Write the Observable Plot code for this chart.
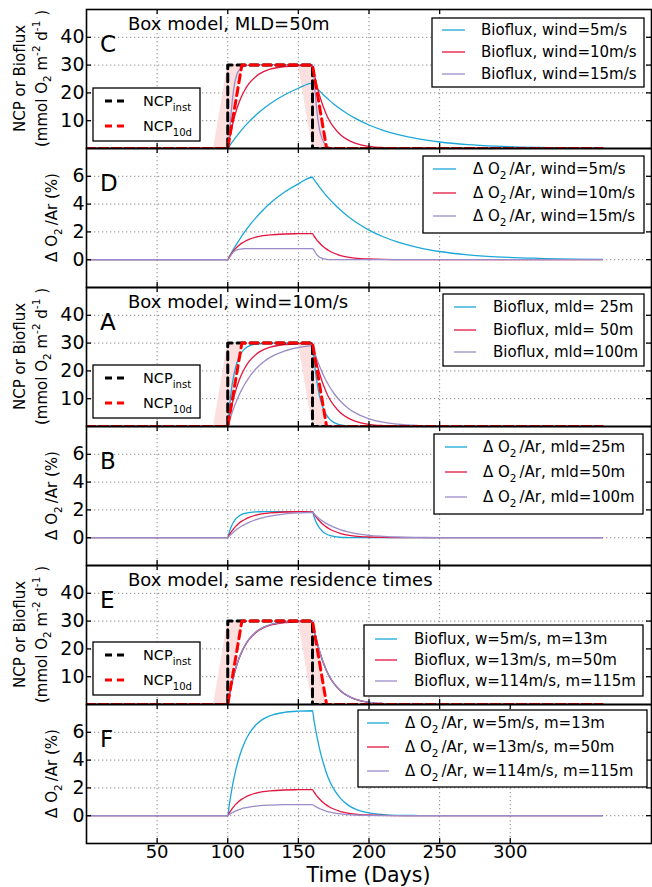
<!DOCTYPE html>
<html><head><meta charset="utf-8">
<script src="https://cdn.jsdelivr.net/npm/d3@7"></script>
<script src="https://cdn.jsdelivr.net/npm/@observablehq/plot@0.6"></script>
<style>
body{margin:0;background:#fff;overflow:hidden;font-family:"DejaVu Sans",sans-serif;}
#fig{position:relative;width:652px;height:887px;overflow:hidden;background:#fff;}
#fig svg{position:absolute;left:0;overflow:visible;}
</style></head><body><div id="fig"></div>
<script>
// ---- time grid (days) ----
const T = [0,100,101,102,103,104,105,106,107,108,110,112,115,120,125,130,140,150,160,161,162,163,164,165,166,167,168,170,172,175,180,185,190,200,210,220,235,250,270,290,320,365];

// ---- panel C: Bioflux, MLD=50m ----
const C_w5  = [0,0,0.76,1.50,2.22,2.93,3.61,4.28,4.93,5.56,6.79,7.95,9.58,12.04,14.20,16.10,19.24,21.67,23.55,22.95,22.37,21.81,21.25,20.72,20.19,19.68,19.18,18.22,17.31,16.03,14.10,12.40,10.91,8.45,6.54,5.06,3.44,2.34,1.40,0.84,0.39,0.12];
const C_w10 = [0,0,2.85,5.44,7.78,9.89,11.80,13.54,15.10,16.52,18.96,20.96,23.31,25.94,27.54,28.51,29.45,29.80,29.93,27.35,25.00,22.85,20.88,19.08,17.44,15.94,14.57,12.06,9.98,7.65,4.86,3.08,1.96,0.79,0.32,0.13,0.03,0.01,0,0,0,0];
const C_w15 = [0,0,5.0,10.5,16.0,20.5,23.8,25.9,27.3,28.2,29.2,29.6,29.9,30.1,30.2,30.2,30.2,30.2,30.2,26.0,19.5,14.0,9.8,6.8,4.7,3.2,2.2,1.0,0.45,0.15,0.02,0,0,0,0,0,0,0,0,0,0,0];
// ---- panel D: dO2/Ar, MLD=50m ----
const D_w5  = [0,0,0.19,0.38,0.56,0.74,0.91,1.08,1.24,1.40,1.71,2.00,2.41,3.03,3.58,4.06,4.85,5.46,5.93,5.78,5.64,5.50,5.36,5.22,5.09,4.96,4.83,4.59,4.36,4.04,3.55,3.12,2.75,2.13,1.65,1.28,0.87,0.59,0.35,0.21,0.10,0.03];
const D_w10 = [0,0,0.18,0.34,0.49,0.62,0.74,0.85,0.95,1.04,1.19,1.31,1.46,1.63,1.73,1.79,1.85,1.87,1.88,1.71,1.57,1.43,1.31,1.20,1.09,1.00,0.91,0.76,0.63,0.48,0.30,0.19,0.12,0.05,0.02,0.01,0,0,0,0,0,0];
const D_w15 = [0,0,0.13,0.28,0.43,0.55,0.63,0.69,0.73,0.75,0.78,0.79,0.80,0.80,0.80,0.80,0.80,0.80,0.80,0.69,0.52,0.37,0.26,0.18,0.13,0.09,0.06,0.03,0.01,0,0,0,0,0,0,0,0,0,0,0,0,0];
// ---- panel A: Bioflux, wind=10m/s ----
const A_m25  = [0,0,5.98,10.76,14.60,17.67,20.12,22.09,23.67,24.93,26.75,27.92,28.93,29.65,29.88,29.96,30,30,30,24.56,20.11,16.46,13.48,11.04,9.04,7.40,6.06,4.06,2.72,1.49,0.55,0.20,0.07,0.01,0,0,0,0,0,0,0,0];
const A_m50  = [0,0,2.85,5.44,7.78,9.89,11.80,13.54,15.10,16.52,18.96,20.96,23.31,25.94,27.54,28.51,29.45,29.80,29.93,27.35,25.00,22.85,20.88,19.08,17.44,15.94,14.57,12.06,9.98,7.65,4.86,3.08,1.96,0.79,0.32,0.13,0.03,0.01,0,0,0,0];
const A_m100 = [0,0,1.71,3.33,4.85,6.29,7.65,8.92,10.13,11.26,13.34,15.19,17.59,20.75,23.11,24.86,27.15,28.42,29.12,27.46,25.89,24.41,23.01,21.70,20.46,19.29,18.19,16.17,14.38,12.05,8.98,6.69,4.99,2.77,1.54,0.85,0.35,0.15,0.04,0.01,0,0];
// ---- panel B: dO2/Ar, wind=10m/s ----
const B_m25  = [0,0,0.37,0.67,0.92,1.11,1.26,1.39,1.48,1.56,1.68,1.75,1.81,1.86,1.87,1.88,1.88,1.88,1.88,1.54,1.26,1.03,0.85,0.69,0.57,0.46,0.38,0.25,0.17,0.09,0.03,0.01,0,0,0,0,0,0,0,0,0,0];
const B_m50  = [0,0,0.18,0.34,0.49,0.62,0.74,0.85,0.95,1.04,1.19,1.31,1.46,1.63,1.73,1.79,1.85,1.87,1.88,1.71,1.57,1.43,1.31,1.20,1.09,1.00,0.91,0.76,0.63,0.48,0.30,0.19,0.12,0.05,0.02,0.01,0,0,0,0,0,0];
const B_m100 = [0,0,0.11,0.21,0.30,0.39,0.48,0.56,0.64,0.71,0.84,0.95,1.10,1.30,1.45,1.56,1.70,1.78,1.83,1.72,1.62,1.53,1.44,1.36,1.28,1.21,1.14,1.01,0.90,0.76,0.56,0.42,0.31,0.17,0.10,0.05,0.02,0.01,0,0,0,0];
// ---- panel E: Bioflux, same residence times ----
const E_w5   = [0,0,2.87,5.47,7.82,9.94,11.86,13.60,15.17,16.60,19.05,21.06,23.42,26.06,27.66,28.63,29.57,29.92,30.05,27.46,25.10,22.94,20.96,19.16,17.51,16.00,14.63,12.11,10.02,7.68,4.88,3.09,1.97,0.79,0.32,0.13,0.03,0.01,0,0,0,0];
const E_w13  = [0,0,2.85,5.44,7.78,9.89,11.80,13.54,15.10,16.52,18.96,20.96,23.31,25.94,27.54,28.51,29.45,29.80,29.93,27.35,25.00,22.85,20.88,19.08,17.44,15.94,14.57,12.06,9.98,7.65,4.86,3.08,1.96,0.79,0.32,0.13,0.03,0.01,0,0,0,0];
const E_w114 = [0,0,2.88,5.49,7.85,9.98,11.90,13.65,15.23,16.66,19.12,21.14,23.51,26.16,27.77,28.74,29.69,30.04,30.17,27.57,25.20,23.03,21.05,19.24,17.58,16.07,14.69,12.16,10.06,7.71,4.90,3.10,1.98,0.80,0.32,0.13,0.03,0.01,0,0,0,0];
// ---- panel F: dO2/Ar, same residence times ----
const F_w5   = [0,0,0.72,1.37,1.96,2.50,2.98,3.42,3.81,4.17,4.78,5.29,5.88,6.54,6.95,7.19,7.43,7.52,7.55,6.90,6.31,5.77,5.27,4.81,4.40,4.02,3.68,3.04,2.52,1.93,1.23,0.78,0.49,0.20,0.08,0.03,0.01,0,0,0,0,0];
const F_w13  = [0,0,0.18,0.34,0.49,0.62,0.74,0.85,0.95,1.04,1.19,1.31,1.46,1.63,1.73,1.79,1.85,1.87,1.88,1.71,1.57,1.43,1.31,1.20,1.09,1.00,0.91,0.76,0.63,0.48,0.30,0.19,0.12,0.05,0.02,0.01,0,0,0,0,0,0];
const F_w114 = [0,0,0.08,0.15,0.21,0.26,0.32,0.36,0.40,0.44,0.51,0.56,0.62,0.69,0.74,0.76,0.79,0.80,0.80,0.73,0.67,0.61,0.56,0.51,0.47,0.43,0.39,0.32,0.27,0.20,0.13,0.08,0.05,0.02,0.01,0,0,0,0,0,0,0];

// ---- NCP forcing ----
const ncpInstT = [0,100,100,160,160,365];
const ncpInstV = [0,0,30,30,0,0];
const ncp10dT  = [0,100,110,160,170,365];
const ncp10dV  = [0,0,30,30,0,0];
const bandT     = [90,100,110,150,160,170];
const bandLead  = [0,30,30,30,0,0];
const bandTrail = [0,0,30,30,30,0];

// ---- ticks ----
const xTicksUpper = [50,100,150,200,250];
const xTicksLower = [50,100,150,200,250,300];
const ncpTicks = [10,20,30,40];
const o2Ticks = [0,2,4,6];
const ncpDomain = [0,50];
const o2Domain = [-2,8];

// ---- labels ----
const BLUE = "#1ba7d8", RED = "#e3153f", PURPLE = "#9c8bc9";
const DO2 = [{t:"Δ O"},{sub:"2"},{t:"/Ar, ", dx:3}];
const labelsC = ["Bioflux, wind=5m/s","Bioflux, wind=10m/s","Bioflux, wind=15m/s"];
const labelsD = ["wind=5m/s","wind=10m/s","wind=15m/s"];
const labelsA = ["Bioflux, mld= 25m","Bioflux, mld= 50m","Bioflux, mld=100m"];
const labelsB = ["mld=25m","mld=50m","mld=100m"];
const labelsE = ["Bioflux, w=5m/s, m=13m","Bioflux, w=13m/s, m=50m","Bioflux, w=114m/s, m=115m"];
const labelsF = ["w=5m/s, m=13m","w=13m/s, m=50m","w=114m/s, m=115m"];

// ---------------- drawing ----------------
const W = 652, ML = 86, MR = 1, PH = 139, PAD = 3, PW = W - ML - MR;
const FONT = "DejaVu Sans";
const fig = document.getElementById("fig");
const rowsOf = (ts, vs) => ts.map((t, i) => ({t, v: vs[i]}));
const bandRows = bandT.map((t, i) => ({t, lead: bandLead[i], trail: bandTrail[i]}));

function rich(g, x, y, parts, size, opts = {}) {
  const t = g.append("text").attr("font-size", size).attr("font-family", FONT)
    .attr("fill", "black").attr("text-anchor", opts.anchor || "start");
  if (opts.rotate) t.attr("transform", `translate(${x},${y}) rotate(-90)`);
  else t.attr("x", x).attr("y", y);
  let shift = 0;
  for (const p of parts) {
    const q = typeof p === "string" ? {t: p} : p;
    const s = t.append("tspan");
    let d = 0, fs = size;
    if (q.sub !== undefined) { d = size * 0.3; fs = size * 0.7; s.text(q.sub); }
    else if (q.sup !== undefined) { d = -size * 0.42; fs = size * 0.7; s.text(q.sup); }
    else s.text(q.t);
    s.attr("font-size", fs);
    if (d - shift !== 0) s.attr("dy", d - shift);
    if (q.dx) s.attr("dx", q.dx);
    shift = d;
  }
  return t;
}

function legend(g, box, rows, sx0, sx1, tx, size, lineW) {
  g.append("rect").attr("x", box[0]).attr("y", box[1] + PAD).attr("width", box[2] - box[0])
    .attr("height", box[3] - box[1]).attr("fill", "white").attr("stroke", "black").attr("stroke-width", 1.3);
  rows.forEach(r => {
    const l = g.append("line").attr("x1", sx0).attr("x2", sx1).attr("y1", r.y + PAD).attr("y2", r.y + PAD)
      .attr("stroke", r.color).attr("stroke-width", r.w || lineW);
    if (r.dash) l.attr("stroke-dasharray", r.dash);
    rich(g, tx, r.y + PAD + size * 0.36, r.parts, size);
  });
}

function panel(cfg) {
  const last = !!cfg.last;
  const mb = last ? 48 : PAD;
  const H = PAD + PH + mb;
  const xt = last ? xTicksLower : xTicksUpper;
  const yt = cfg.ncp ? ncpTicks : o2Ticks;
  const grid = {stroke: "#8c8c8c", strokeOpacity: 1, strokeWidth: 1, strokeDasharray: "1.3,2.7"};
  const marks = [
    Plot.gridX({ticks: xt, ...grid}),
    Plot.gridY({ticks: yt, ...grid})
  ];
  if (cfg.ncp) marks.push(Plot.areaY(bandRows, {x: "t", y1: "lead", y2: "trail", fill: "#fcdfdf", clip: true}));
  cfg.series.forEach(([arr, color]) => marks.push(
    Plot.line(rowsOf(T, arr), {x: "t", y: "v", stroke: color, strokeWidth: 1.3, curve: "monotone-x", clip: true})));
  if (cfg.ncp) {
    marks.push(Plot.line(rowsOf(ncpInstT, ncpInstV), {x: "t", y: "v", stroke: "black", strokeWidth: 3, strokeDasharray: "8,5", clip: true}));
    marks.push(Plot.line(rowsOf(ncp10dT, ncp10dV), {x: "t", y: "v", stroke: "#ff0000", strokeWidth: 3, strokeDasharray: "8,5", clip: true}));
  }
  const tk = {stroke: "black", strokeWidth: 1.3};
  marks.push(
    Plot.ruleX(xt, {x: d => d, insetTop: PH - 5, ...tk}),
    Plot.ruleX(xt, {x: d => d, insetBottom: PH - 5, ...tk}),
    Plot.ruleY(yt, {y: d => d, insetRight: PW - 5, ...tk}),
    Plot.ruleY(yt, {y: d => d, insetLeft: PW - 5, ...tk}),
    Plot.frame({stroke: "black", strokeWidth: 1.6}),
    Plot.axisY({ticks: yt, tickSize: 0, tickPadding: 2, label: null, fontSize: 19})
  );
  if (last) marks.push(Plot.axisX({ticks: xt, tickSize: 0, tickPadding: 2, label: null, fontSize: 18}));
  const svg = Plot.plot({
    width: W, height: H, marginLeft: ML, marginRight: MR, marginTop: PAD, marginBottom: mb,
    x: {domain: [0, 400], axis: null},
    y: {domain: cfg.ncp ? ncpDomain : o2Domain, axis: null},
    style: {fontFamily: FONT, fontSize: "18px", background: "transparent", color: "black", overflow: "visible"},
    marks
  });
  svg.style.top = (cfg.top - PAD) + "px";
  fig.appendChild(svg);
  const g = d3.select(svg).append("g");
  const mid = PAD + PH / 2;
  if (cfg.ncp) {
    rich(g, 25, mid, ["NCP or Bioflux"], 15, {anchor: "middle", rotate: true});
    rich(g, 46.5, mid, ["(mmol O", {sub: "2"}, " m", {sup: "-2"}, " d", {sup: "-1"}, " )"], 15, {anchor: "middle", rotate: true});
  } else {
    rich(g, 57, mid, ["Δ O", {sub: "2"}, {t: "/Ar (%)", dx: 3}], 15, {anchor: "middle", rotate: true});
  }
  rich(g, 100, PAD + 43, [cfg.letter], 23);
  if (cfg.title) rich(g, 128, PAD + 20.5, [cfg.title], 18);
  const L = cfg.legend;
  legend(g, L.box, L.labels.map((lab, i) => ({
    y: L.rows[i], color: cfg.series[i][1],
    parts: cfg.ncp ? [lab] : [...DO2, lab]
  })), L.sx[0], L.sx[1], L.tx, 15, 1.3);
  if (cfg.ncp) {
    const n = cfg.ncpLegend;
    legend(g, [93, n, 200, n + 53], [
      {y: n + 13, color: "black", w: 3, dash: "7,5", parts: ["NCP", {sub: "inst"}]},
      {y: n + 38, color: "#ff0000", w: 3, dash: "7,5", parts: ["NCP", {sub: "10d"}]}
    ], 105, 125, 143, 14.5, 3);
  }
  if (last) rich(g, ML + PW / 2, PAD + PH + 39, ["Time (Days)"], 20.5, {anchor: "middle"});
}

panel({top: 9, ncp: true, letter: "C", title: "Box model, MLD=50m",
  series: [[C_w5, BLUE], [C_w10, RED], [C_w15, PURPLE]], ncpLegend: 79,
  legend: {box: [432, 9, 644, 78], rows: [21, 43, 65], sx: [442, 465], tx: 481, labels: labelsC}});
panel({top: 148, ncp: false, letter: "D",
  series: [[D_w5, BLUE], [D_w10, RED], [D_w15, PURPLE]],
  legend: {box: [423, 8, 644, 85], rows: [21, 45, 68], sx: [433, 456], tx: 473, labels: labelsD}});
panel({top: 287, ncp: true, letter: "A", title: "Box model, wind=10m/s",
  series: [[A_m25, BLUE], [A_m50, RED], [A_m100, PURPLE]], ncpLegend: 78,
  legend: {box: [443, 7, 644, 79], rows: [20, 43, 65], sx: [454, 476], tx: 493, labels: labelsA}});
panel({top: 426, ncp: false, letter: "B",
  series: [[B_m25, BLUE], [B_m50, RED], [B_m100, PURPLE]],
  legend: {box: [434, 8, 643, 88], rows: [21, 46, 71], sx: [445, 467], tx: 483, labels: labelsB}});
panel({top: 565, ncp: true, letter: "E", title: "Box model, same residence times",
  series: [[E_w5, BLUE], [E_w13, RED], [E_w114, PURPLE]], ncpLegend: 77,
  legend: {box: [364, 60, 643, 131], rows: [74, 95, 116], sx: [375, 397], tx: 414, labels: labelsE}});
panel({top: 704, ncp: false, letter: "F", last: true,
  series: [[F_w5, BLUE], [F_w13, RED], [F_w114, PURPLE]],
  legend: {box: [358, 6, 647, 83], rows: [19, 43, 67], sx: [367, 389], tx: 405, labels: labelsF}});
</script></body></html>
